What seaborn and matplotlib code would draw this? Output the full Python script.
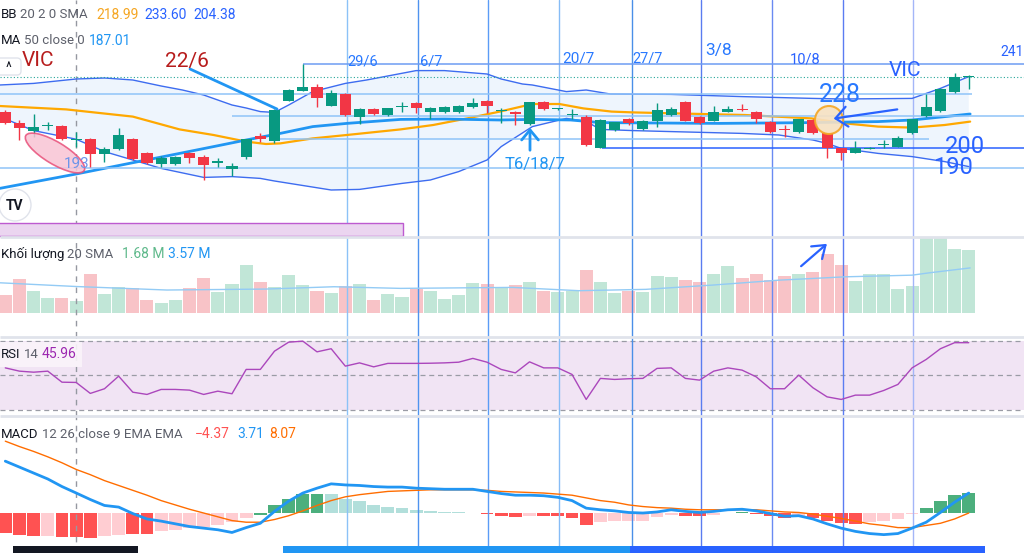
import numpy as np
import matplotlib
matplotlib.use("Agg")
import matplotlib.pyplot as plt
from matplotlib.patches import Ellipse, Circle, Rectangle, FancyBboxPatch
import seaborn as sns

# ---- daily candles (VIC) ----
opens = [218, 212.5, 208.5, 211, 211, 203.9, 204.5, 197, 199.5, 204.5,
         197.5, 192, 192, 197.5, 195.5, 192.5, 189.5, 195.3, 206.2, 203.7,
         223.7, 228.7, 230.3, 221.2, 227, 215.7, 219.5, 216.5, 220.4, 222.5,
         218, 218, 218, 220.5, 223.5, 218.4, 218.2, 211.8, 222.8, 219.3,
         216.7, 215.7, 200.2, 209, 214.5, 209.5, 213.5, 216.5, 223.2, 215.7,
         213.7, 218.2, 219.1, 218.2, 213.2, 209.1, 207.8, 214, 207.3, 199.8,
         197.7, 199.7, 201.4, 200.7, 207.3, 216.2, 218.5, 228.2, 235.6]
closes = [212.5, 210, 210.5, 211.1, 204.5, 204, 197, 199.5, 206.5, 194.5,
          192.5, 195, 195.5, 195, 191.5, 193.5, 191, 204.3, 204.5, 219,
          229, 230.3, 224.8, 227.7, 216.5, 219.5, 216.8, 219.8, 220.5, 220,
          220, 220.5, 221, 222.5, 221, 218.5, 216.8, 222.8, 219.3, 219.8,
          216.8, 201.5, 214, 212.8, 212.7, 213.5, 219, 219.3, 213.7, 212.3,
          217.8, 219.5, 219, 214.5, 207.8, 209, 214.3, 207.3, 199.8, 197.3,
          199.8, 199.8, 201.5, 204.8, 214.3, 220.3, 229.5, 235.7, 235.7]
highs = [219, 214, 217, 213, 211.5, 208, 205, 200.5, 210, 205,
         198, 196, 196, 198, 196.5, 194.8, 192.3, 204.7, 207.3, 219.5,
         229.5, 242, 232, 229, 227.3, 219.8, 219.8, 220.2, 223.2, 222.8,
         220.3, 221, 221.5, 224.8, 224, 219.8, 218.5, 223.2, 223.7, 220.2,
         219.3, 216.5, 214.3, 213.2, 214.8, 213.8, 222.3, 220.7, 223.5, 216,
         221, 221, 222, 218.5, 213.5, 211.5, 214.6, 214.3, 207.6, 200.1,
         203.5, 200.3, 204, 206, 214.6, 226.8, 229.8, 237.7, 236.5]
lows = [212, 204, 205.5, 209, 204, 200.5, 190.5, 193, 199, 194,
        192, 190.7, 191.5, 192.7, 184, 190.7, 186, 194.7, 203.2, 202.3,
        223.4, 228.4, 220.7, 220.9, 216.2, 212, 216.5, 216.2, 218.2, 217.3,
        214.5, 217.5, 217.5, 220, 217.3, 212.3, 211.5, 211.5, 219, 219,
        214.3, 201.2, 199.9, 208.7, 211.5, 209.2, 210.7, 216.2, 213.4, 212,
        213.4, 217.9, 218.7, 212.3, 207.5, 205.7, 207.5, 207, 194.8, 194,
        197.4, 199.5, 199.8, 200.4, 207, 215.3, 218.2, 227.3, 229.3]

# volume in millions
volumes = [2.43, 4.51, 3.01, 1.99, 2.08, 1.68, 5.18, 2.52, 3.54, 3.32,
           1.77, 1.42, 1.77, 3.32, 4.65, 2.88, 3.89, 6.50, 4.12, 3.45,
           5.09, 3.76, 3.01, 2.65, 3.63, 3.89, 1.77, 2.52, 2.12, 3.19,
           3.01, 1.90, 2.43, 4.07, 3.85, 3.45, 3.76, 4.12, 2.96, 2.79,
           2.96, 5.75, 4.20, 2.65, 2.96, 2.79, 4.96, 4.78, 4.42, 4.20,
           5.18, 6.28, 4.73, 5.31, 4.42, 5.00, 5.22, 5.53, 7.96, 6.50,
           4.34, 5.22, 5.22, 3.23, 3.63, 10.18, 10.04, 8.63, 8.50]
vol_sma_x = [-0.4, 5, 11.4, 18.4, 23.2, 27.9, 35.8, 40.5, 45.2, 49.9, 54.6, 59.3, 64.0, 65.2, 68.1]
vol_sma = [4.07, 3.57, 3.10, 3.23, 3.54, 3.32, 3.45, 3.01, 3.19, 3.76, 4.42, 4.87, 5.09, 5.40, 6.06]

# Bollinger bands (20, 2) and MA 50
bb_up_x = [-0.4, 2, 5, 7, 9, 11, 12.5, 14, 16, 17, 18, 19, 20, 21.7, 24, 25.5, 29, 31, 34, 35,
           36.5, 37.2, 39.6, 41, 42.7, 47, 52, 57, 59, 64, 66, 68]
bb_up = [231.5, 232.3, 234.5, 235, 234, 231, 229, 226.5, 221.5, 220, 218.2, 217.8, 221.5, 228.2, 232.3, 234,
         238.7, 238.7, 237, 234.5, 232, 231.5, 228.2, 229, 227, 226.8, 225.7, 224.8, 224.5, 224.8, 229.8, 235.7]
bb_lo_x = [-0.4, 2, 5, 7, 9, 11, 14, 16, 18, 19, 23, 25, 28, 30, 32, 34, 35, 37.2, 39.6, 41,
           42, 44.3, 47, 52, 54.6, 57, 58, 59, 61.6, 64, 66.3, 68]
bb_lo = [215.7, 208.7, 204.4, 198.2, 194, 189.8, 185.3, 185.7, 184.8, 183.5, 179, 179.3, 182.3, 184, 188.2,
         194, 200.7, 210.7, 214.8, 213.3, 209.3, 208.7, 208.2, 207.3, 206.5, 204, 202.3, 199.8, 197.3,
         195.7, 193.2, 190.7]
bb_mid_x = [-0.4, 4.3, 9, 12.3, 14.7, 17, 18.4, 19.4, 21.7, 24.1, 27.9, 30.2, 32.6, 34.9, 37.2, 39.1,
            40.8, 42.8, 44.3, 50.4, 52.2, 56.9, 59.3, 61.6, 64, 66.3, 68.1]
bb_mid = [221, 219.3, 215.7, 209.3, 206.5, 203.2, 202, 202.3, 204.8, 206.5, 209.3, 211.5, 214.8, 218.2,
          222, 222, 219.8, 218.2, 217.8, 216.8, 216.5, 214.8, 212.3, 210.7, 210.2, 211.5, 213.2]
ma50_x = [-0.4, 5, 12.3, 14.7, 17, 19.4, 21.7, 24.1, 27.9, 31, 34.9, 37.2, 39.9, 42, 46, 50.4,
          56.9, 61.6, 64, 68.1]
ma50 = [179.8, 187, 197.3, 200.7, 204, 207.3, 210.7, 212.3, 214.3, 214.5, 214, 214.3, 214, 212.7,
        212.5, 212.3, 212.7, 213.2, 214, 217]

rsi = [54.4, 52.5, 51.9, 52.5, 46.1, 45.96, 39.6, 42.3, 49.6, 40.3,
       39.0, 41.9, 41.9, 41.5, 39.0, 40.9, 39.4, 53.5, 53.5, 64.1,
       69.3, 69.9, 63.7, 65.5, 55.4, 57.3, 55.0, 57.0, 57.0, 57.0,
       57.1, 57.3, 57.7, 59.9, 57.7, 53.5, 51.5, 57.9, 54.4, 54.4,
       50.6, 36.1, 48.3, 47.7, 48.1, 48.3, 54.1, 54.4, 48.3, 47.3,
       52.5, 54.4, 53.1, 49.2, 42.3, 42.3, 50.2, 42.9, 37.6, 36.1,
       38.6, 38.6, 41.3, 44.8, 54.4, 59.3, 65.5, 69.0, 69.0]

macd = [9.6, 8.5, 7.4, 6.3, 4.9, 3.71, 2.5, 1.4, 1.1, -0.1,
        -1.1, -1.5, -2.0, -2.5, -2.8, -3.1, -3.6, -2.7, -1.9, 0.3,
        2.2, 3.7, 4.6, 5.4, 5.2, 5.1, 4.9, 4.8, 4.8, 4.6,
        4.5, 4.4, 4.4, 4.4, 4.0, 3.6, 3.3, 3.3, 3.2, 2.9,
        2.3, 0.9, 0.6, 0.4, 0.1, 0.0, 0.2, 0.6, 0.3, 0.1,
        0.3, 0.6, 0.7, 0.4, -0.1, -0.6, -0.5, -1.1, -2.0, -2.8,
        -3.4, -3.8, -4.0, -3.8, -2.8, -1.7, 0.1, 2.0, 3.7]
signal = [13.3, 12.3, 11.4, 10.4, 9.3, 8.07, 7.1, 6.0, 5.1, 4.2,
          3.3, 2.3, 1.5, 0.7, 0.0, -0.7, -1.4, -1.7, -1.7, -1.2,
          -0.5, 0.4, 1.4, 2.3, 3.0, 3.4, 3.7, 4.0, 4.1, 4.2,
          4.3, 4.3, 4.3, 4.3, 4.2, 4.0, 3.9, 3.8, 3.7, 3.5,
          3.3, 2.8, 2.3, 2.0, 1.5, 1.2, 1.0, 0.9, 0.7, 0.6,
          0.6, 0.6, 0.6, 0.6, 0.4, 0.2, 0.1, -0.2, -0.6, -1.0,
          -1.5, -2.0, -2.3, -2.7, -2.7, -2.3, -1.9, -1.1, 0.0]
hist = [-3.7, -4.0, -4.3, -4.2, -4.4, -4.37, -4.6, -4.3, -4.0, -3.8,
        -3.8, -3.4, -3.1, -2.8, -2.6, -2.3, -1.7, -0.9, -0.3, 1.4,
        2.6, 3.6, 3.6, 3.6, 2.6, 2.2, 1.5, 1.2, 0.9, 0.6,
        0.3, 0.2, 0.1, 0.05, -0.1, -0.6, -0.7, -0.5, -0.6, -0.6,
        -0.9, -2.2, -1.7, -1.5, -1.4, -1.4, -0.7, -0.3, -0.5, -0.6,
        -0.3, -0.06, 0.1, -0.1, -0.6, -0.9, -0.5, -0.9, -1.4, -1.9,
        -2.0, -1.7, -1.5, -1.1, -0.1, 0.9, 2.2, 3.3, 3.7]
# G rising above zero, g falling above, R falling below, r rising below
hist_kind = list("RRRrRRRrrRRrrrrrrrGGGGGgggggggggggRRRrRRRRrrrrrrRRrrGRRRrRRRRrrrrGGGG")

week_lines = [24.1, 29.1, 34.1, 39.1, 44.2, 49.1, 54.1, 59.1, 64.1]
week_colors = ["#8cc2f7", "#4f93ef", "#5b9cf6", "#86bcf6", "#4a8fe8",
               "#5a7cf0", "#6a8af2", "#5b7cf2", "#a4b6f8"]
cursor_bar = 5

GREEN, RED = "#089981", "#f23645"
W, H = 1024, 553
X0, X1 = -0.374, 71.9

sns.set_theme(style="white")
plt.rcParams["font.family"] = ["Roboto", "DejaVu Sans"]

fig = plt.figure(figsize=(W / 100, H / 100), dpi=100)


def panel(top, bottom, ylim):
    ax = fig.add_axes([0, 1 - bottom / H, 1, (bottom - top) / H])
    ax.set_xlim(X0, X1)
    ax.set_ylim(*ylim)
    ax.axis("off")
    return ax


ax_p = panel(0, 237, (155.5, 274))
ax_v = panel(237, 337, (-3.19, 10.2))
ax_r = panel(337, 416, (26.5, 72.3))
ax_m = panel(416, 553, (-7.4, 17.96))

bars = np.arange(len(opens))
o = np.array(opens)
c = np.array(closes)
rising = c >= o

for ax in (ax_p, ax_v, ax_r, ax_m):
    for xw, cw in zip(week_lines, week_colors):
        ax.axvline(xw, color=cw, lw=1, zorder=2)
    ax.axvline(cursor_bar, color="#9598a1", lw=1, ls=(0, (4, 4)), zorder=2)

# ---- price panel ----
ax_p.fill(np.concatenate([bb_up_x, bb_lo_x[::-1]]), np.concatenate([bb_up, bb_lo[::-1]]),
          color="#eef5fd", lw=0, zorder=1)
sns.lineplot(x=bb_up_x, y=bb_up, ax=ax_p, color="#3d6cf0", lw=1, legend=False, zorder=2)
sns.lineplot(x=bb_lo_x, y=bb_lo, ax=ax_p, color="#3d6cf0", lw=1, legend=False, zorder=2)
sns.lineplot(x=bb_mid_x, y=bb_mid, ax=ax_p, color="#ffa800", lw=1.6, legend=False, zorder=2)
sns.lineplot(x=ma50_x, y=ma50, ax=ax_p, color="#2196f3", lw=2, legend=False, zorder=2)

levels = [242, 227, 216, 204.5, 200, 190]
level_from = [21.0, X0, 16.0, 19.2, 42.1, X0]
level_to = [X1, 68.2, X1, 65.2, X1, X1]
level_colors = ["#6e9cf2", "#90c4f8", "#90c4f8", "#90c4f8", "#2962ff", "#90c4f8"]
for lv, a, b, lc in zip(levels, level_from, level_to, level_colors):
    ax_p.hlines(lv, a, b, color=lc, lw=1.1, zorder=2.5)
ax_p.axhline(closes[-1], color="#26a69a", lw=0.8, ls=(0, (1, 2)), zorder=2)

ccol = np.where(rising, GREEN, RED)
ax_p.vlines(bars, lows, highs, colors=ccol, lw=1, zorder=3)
ax_p.bar(bars, np.maximum(np.abs(c - o), 0.5), bottom=np.minimum(o, c), width=0.78,
         color=ccol, linewidth=0, zorder=4)

# ---- volume ----
ax_v.bar(bars, volumes, width=0.92, color=np.where(rising, "#c1e6d7", "#f8c3c7"), linewidth=0, zorder=1)
sns.lineplot(x=vol_sma_x, y=vol_sma, ax=ax_v, color="#93cbf5", lw=1, legend=False, zorder=3)

# ---- RSI ----
ax_r.axhspan(30, 70, color="#f1e4f4", lw=0, zorder=0)
for lv in (70, 50, 30):
    ax_r.axhline(lv, color="#9a9ca5", lw=0.9, ls=(0, (4, 3)), zorder=1)
sns.lineplot(x=bars, y=rsi, ax=ax_r, color="#ab47bc", lw=1, legend=False, zorder=3)

# ---- MACD ----
kind_color = {"G": "#4caf7d", "g": "#b2dfdb", "R": "#ff5252", "r": "#ffcdd2"}
ax_m.bar(bars, hist, width=0.9, color=[kind_color[k] for k in hist_kind], linewidth=0, zorder=1)
sns.lineplot(x=bars, y=signal, ax=ax_m, color="#ff6d00", lw=1, legend=False, zorder=3)
sns.lineplot(x=bars, y=macd, ax=ax_m, color="#2196f3", lw=2, legend=False, zorder=4)

# ---- drawings / legends in screen pixels ----
ov = fig.add_axes([0, 0, 1, 1])
ov.set_xlim(0, W)
ov.set_ylim(H, 0)
ov.axis("off")
ov.patch.set_alpha(0)

ov.hlines([237, 337, 416], 0, W, color="#e0e3eb", lw=2)
ov.add_patch(Rectangle((-2, 223), 405, 13, facecolor="#ebd5f0", edgecolor="#bd5ad0", lw=1))
ov.add_patch(Ellipse((55, 153), 68, 22, angle=31, facecolor="#f8c4d4", edgecolor="#e8507a",
                     lw=1.2, alpha=0.85))
ov.add_patch(Circle((829, 120), 14, facecolor="#f8e1c2", edgecolor="#f5a623", lw=1.5, alpha=0.9))
ov.plot([190, 277], [69, 109], color="#2196f3", lw=2)

arrow_kw = dict(color="#2962ff", lw=1.6)
ov.annotate("", xy=(831, 119), xytext=(900, 109),
            arrowprops=dict(arrowstyle="->,head_length=0.7,head_width=0.6", **arrow_kw), zorder=6)
ov.annotate("", xy=(829, 242), xytext=(799, 268),
            arrowprops=dict(arrowstyle="->,head_length=0.7,head_width=0.5", **arrow_kw))
ov.annotate("", xy=(530, 125), xytext=(530, 153),
            arrowprops=dict(arrowstyle="->,head_length=0.6,head_width=0.5", color="#2196f3", lw=2))

labels = [
    ("VIC", 22, 60, 15, "#b71c1c"), ("22/6", 165, 61, 15, "#b71c1c"),
    ("29/6", 347, 62, 10.5, "#2979ff"), ("6/7", 420, 61, 10.5, "#2979ff"),
    ("20/7", 562, 58.5, 11, "#2979ff"), ("27/7", 632, 58.5, 10.5, "#2979ff"),
    ("3/8", 705, 51, 12.5, "#2979ff"), ("10/8", 790, 60, 10.5, "#2962ff"),
    ("VIC", 889, 70, 15, "#2962ff"), ("241", 1000, 52, 10, "#2962ff"),
    ("228", 819, 95, 18, "#2979ff"), ("200", 945, 146.5, 17, "#2962ff"),
    ("190", 933, 167.5, 17, "#2962ff"), ("193", 64, 164, 11, "#6d95ea"),
    ("T6/18/7", 505, 164, 12, "#2196f3"),
]
for txt, x, y, fs, col in labels:
    ov.text(x, y, txt, fontsize=fs, color=col, ha="left", va="center")

legend_rows = [
    (15, "BB", "20 2 0 SMA", [("218.99", 96, "#f5a623"), ("233.60", 144, "#2962ff"), ("204.38", 193, "#2962ff")]),
    (41, "MA", "50 close 0", [("187.01", 89, "#2196f3")]),
    (254, "Khối lượng", "20 SMA", [("1.68 M", 122, "#5fb98b"), ("3.57 M", 168, "#2196f3")]),
    (354, "RSI", "14", [("45.96", 42, "#9c27b0")]),
    (434, "MACD", "12 26 close 9 EMA EMA",
     [("\u22124.37", 195, "#ff5252"), ("3.71", 237, "#2196f3"), ("8.07", 269, "#ff6d00")]),
]
ov.add_patch(Rectangle((0, 342), 82, 25, facecolor="#faf4fa", edgecolor="none", alpha=0.9))
renderer = fig.canvas.get_renderer()
for y, name, params, vals in legend_rows:
    t = ov.text(1, y, name, fontsize=9.5, color="#131722", ha="left", va="center")
    x_end = ov.transData.inverted().transform(t.get_window_extent(renderer))[1][0]
    ov.text(x_end + 3, y, params, fontsize=9.5, color="#5d606b", ha="left", va="center")
    for v, xv, cv in vals:
        ov.text(xv, y, v, fontsize=10, color=cv, ha="left", va="center")

ov.add_patch(FancyBboxPatch((-6, 58), 27, 17, boxstyle="round,pad=0,rounding_size=4",
                            facecolor="white", edgecolor="#e0e3eb", lw=1))
ov.text(8, 68, "^", fontsize=10, color="#131722", ha="center", va="center")
ov.add_patch(Circle((15, 205), 16, facecolor="white", edgecolor="#e0e3eb", lw=1))
ov.text(15, 206, "TV", fontsize=10, fontweight="bold", color="#131722", ha="center", va="center")

ov.add_patch(Rectangle((13, 546), 125, 7, facecolor="#131722", lw=0))
ov.add_patch(Rectangle((283, 546), 347, 7, facecolor="#2196f3", lw=0))
ov.add_patch(Rectangle((630, 546), 355, 7, facecolor="#2962ff", lw=0))

fig.savefig("out.png", dpi=100)
